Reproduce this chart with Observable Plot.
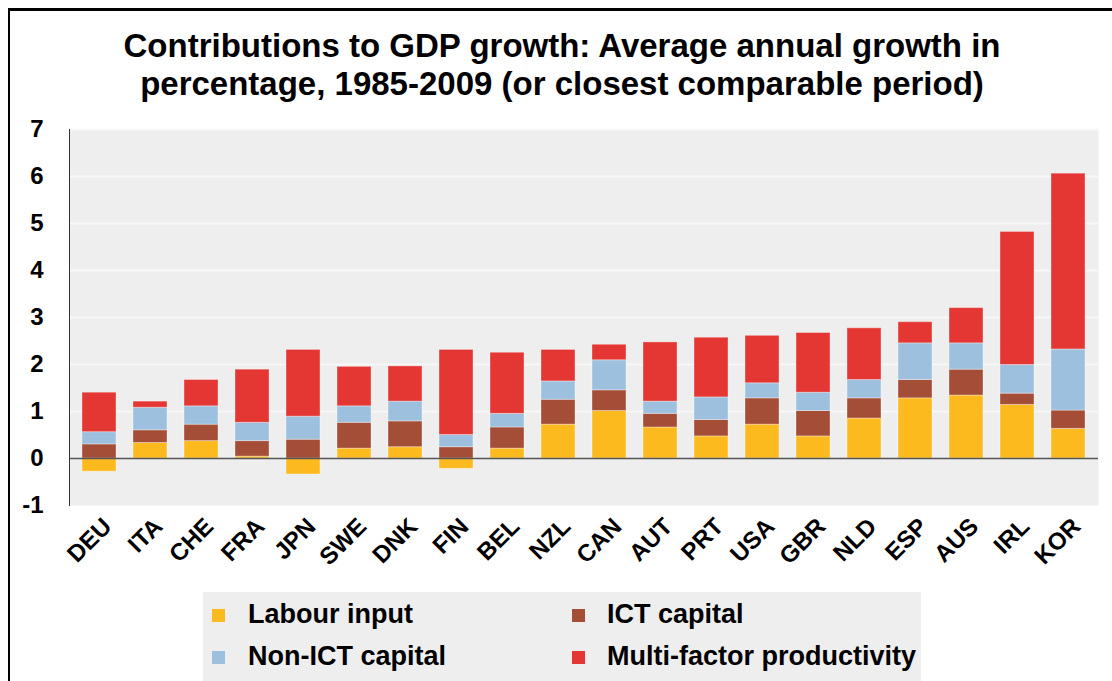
<!DOCTYPE html>
<html>
<head>
<meta charset="utf-8">
<script src="https://cdn.jsdelivr.net/npm/d3@7"></script>
<script src="https://cdn.jsdelivr.net/npm/@observablehq/plot@0.6"></script>
<style>
  html, body { margin: 0; padding: 0; background: #fff; }
  body { font-family: "Liberation Sans", Arial, sans-serif; }
  #wrap { position: relative; width: 1112px; height: 681px; overflow: hidden; }
  #border { position: absolute; left: 8px; top: 8px; width: 1200px; height: 800px;
            border-top: 3px solid #000; border-left: 2px solid #000; pointer-events: none; }
  #title { height: 115px; box-sizing: border-box; padding-top: 27px; padding-left: 12px;
           text-align: center; font-weight: bold; font-size: 33px; line-height: 38px; color: #000; }
  #chart svg { display: block; }
  #legend { position: relative; margin-left: 203px; width: 718px; height: 89px; background: #eeeeee; }
  .item { position: absolute; font-weight: bold; font-size: 27px; color: #000; white-space: nowrap; line-height: 30px; }
  .sw { position: absolute; width: 13px; height: 13px; }
</style>
</head>
<body>
<div id="wrap">
  <div id="title">Contributions to GDP growth: Average annual growth in<br>percentage, 1985-2009 (or closest comparable period)</div>
  <div id="chart"></div>
  <div id="legend"></div>
  <div id="border"></div>
</div>
<script>
const countries = ["DEU","ITA","CHE","FRA","JPN","SWE","DNK","FIN","BEL","NZL","CAN","AUT","PRT","USA","GBR","NLD","ESP","AUS","IRL","KOR"];
const labourInput   = [-0.28,0.33,0.37,0.04,-0.34,0.21,0.24,-0.22,0.21,0.72,1.01,0.66,0.47,0.72,0.47,0.85,1.28,1.34,1.14,0.63];
const ictCapital    = [0.30,0.27,0.35,0.33,0.40,0.55,0.55,0.24,0.45,0.53,0.44,0.29,0.35,0.56,0.54,0.43,0.39,0.55,0.24,0.39];
const nonIctCapital = [0.26,0.48,0.39,0.39,0.49,0.35,0.42,0.26,0.29,0.39,0.64,0.26,0.48,0.32,0.39,0.39,0.78,0.56,0.61,1.30];
const multiFactor   = [0.84,0.13,0.56,1.13,1.42,0.84,0.75,1.81,1.30,0.67,0.33,1.26,1.27,1.01,1.27,1.10,0.45,0.75,2.83,3.74];
const seriesNames = ["Labour input","ICT capital","Non-ICT capital","Multi-factor productivity"];
const seriesColors = ["#fdba1e","#a54e37","#9ec0df","#e43733"];
const yTicks = [-1,0,1,2,3,4,5,6,7];

const seriesValues = [labourInput, ictCapital, nonIctCapital, multiFactor];
const rows = [];
countries.forEach((c, i) => {
  seriesNames.forEach((s, j) => rows.push({country: c, series: s, value: seriesValues[j][i]}));
});

const font = "'Liberation Sans', Arial, sans-serif";
const chart = Plot.plot({
  width: 1112,
  height: 477,
  marginLeft: 69,
  marginRight: 14,
  marginTop: 14,
  marginBottom: 87,
  style: {fontFamily: font, background: "transparent", color: "#000"},
  x: {domain: countries, paddingInner: 0.34, paddingOuter: 0.17, label: null},
  y: {domain: [-1, 7], label: null},
  color: {domain: seriesNames, range: seriesColors},
  marks: [
    Plot.frame({fill: "#eeeeee"}),
    Plot.gridY(yTicks.filter(d => d > 0), {stroke: "#f8f8f8", strokeOpacity: 1, strokeWidth: 2}),
    Plot.barY(rows, Plot.stackY({x: "country", y: "value", fill: "series", order: seriesNames,
      stroke: "#ffffff", strokeOpacity: 0.35, strokeWidth: 1})),
    Plot.ruleY([0], {stroke: "#555", strokeWidth: 1.5}),
    Plot.frame({anchor: "left", stroke: "#333", strokeWidth: 1}),
    Plot.axisY({ticks: yTicks, tickSize: 0, tickPadding: 26, fontSize: 24, fontWeight: "bold", tickFormat: d => String(d), label: null}),
    Plot.axisX({tickRotate: -45, tickSize: 0, tickPadding: 17, dx: 8, fontSize: 24, fontWeight: "bold", label: null})
  ]
});
document.getElementById("chart").appendChild(chart);

// legend
const legend = document.getElementById("legend");
const pos = [[0,0],[1,0],[0,1],[1,1]]; // column,row for Labour, ICT, Non-ICT, MFP
const colX = [9, 369], textX = [45, 404], rowY = [17, 59];
seriesNames.forEach((s, j) => {
  const [c, r] = pos[j];
  const sw = document.createElement("div");
  sw.className = "sw";
  sw.style.left = colX[c] + "px";
  sw.style.top = rowY[r] + "px";
  sw.style.background = seriesColors[j];
  legend.appendChild(sw);
  const t = document.createElement("div");
  t.className = "item";
  t.style.left = textX[c] + "px";
  t.style.top = (rowY[r] - 10) + "px";
  t.textContent = s;
  legend.appendChild(t);
});
</script>
</body>
</html>
